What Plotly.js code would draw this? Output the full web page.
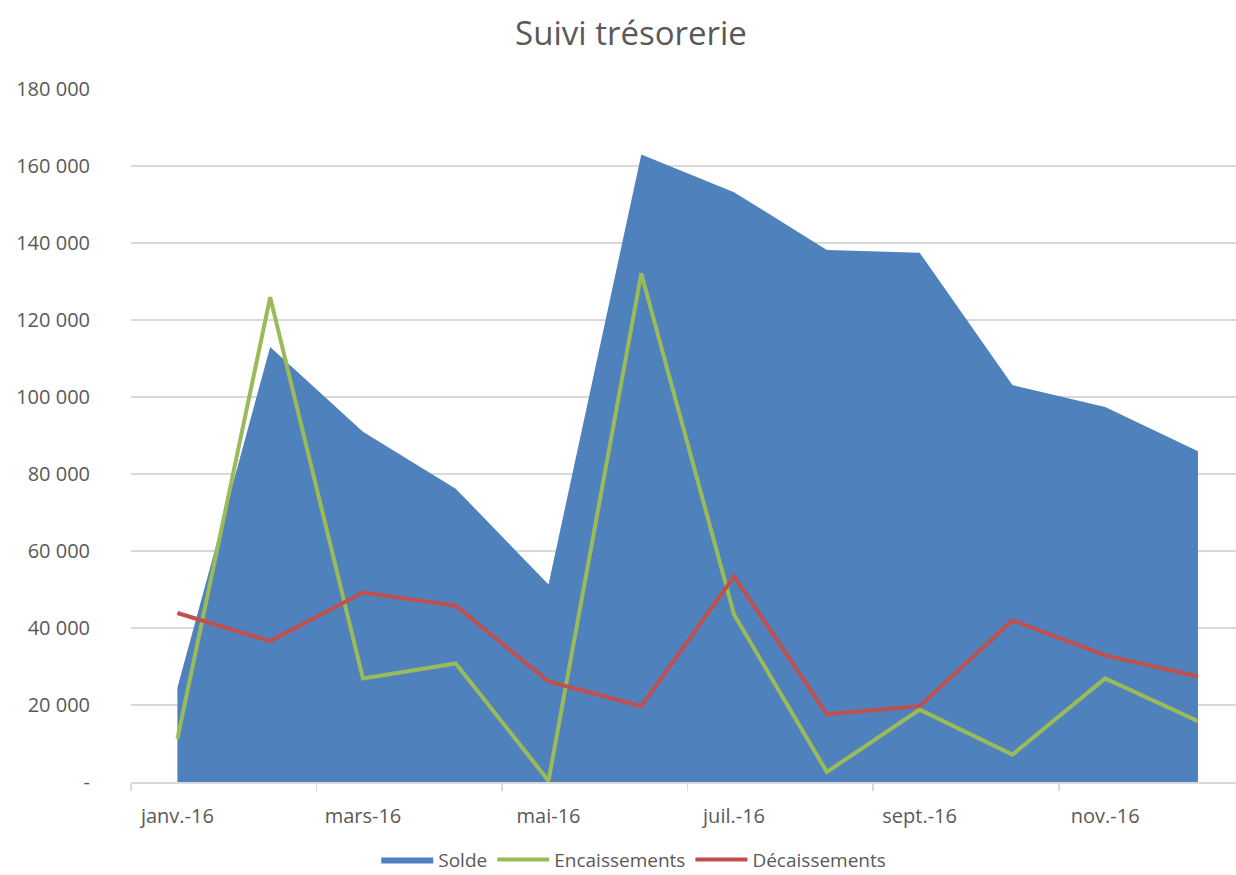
<!DOCTYPE html>
<html>
<head>
<meta charset="utf-8">
<script src="https://cdn.plot.ly/plotly-3.0.1.min.js"></script>
<style>
  html, body { margin: 0; padding: 0; background: #ffffff; }
  #chart { width: 1236px; height: 875px; }
</style>
</head>
<body>
<div id="chart"></div>
<script>
// Months (index positions) and labels
const months = ["janv.-16", "févr.-16", "mars-16", "avr.-16", "mai-16", "juin-16",
                "juil.-16", "août-16", "sept.-16", "oct.-16", "nov.-16", "déc.-16"];
const solde = [24500, 113000, 91000, 76200, 51300, 163000, 153200, 138200, 137500, 103100, 97400, 85900];
const encaissements = [11200, 125900, 26900, 30800, 300, 132100, 43500, 2600, 18800, 7100, 26900, 15800];
const decaissements = [43900, 36600, 49200, 45800, 26100, 19700, 53400, 17600, 19700, 42000, 32900, 27400];

const yTickVals = [0, 20000, 40000, 60000, 80000, 100000, 120000, 140000, 160000, 180000];
const yTickText = ["-", "20 000", "40 000", "60 000", "80 000", "100 000", "120 000", "140 000", "160 000", "180 000"];

const xIdx = months.map((m, i) => i);
const labelIdx = xIdx.filter(i => i % 2 === 0);
const labelText = labelIdx.map(i => months[i]);
const boundaryIdx = labelIdx.map(i => i - 0.5);

const textColor = "#595959";
const gridColor = "#d9d9d9";
const font = "Open Sans, Liberation Sans, sans-serif";

const traces = [
  {
    x: xIdx, y: solde, name: "Solde", type: "scatter", mode: "lines",
    fill: "tozeroy", fillcolor: "#4f81bd",
    line: { width: 0, color: "#4f81bd" }
  },
  {
    x: xIdx, y: encaissements, name: "Encaissements", type: "scatter", mode: "lines",
    line: { width: 4, color: "#9bbb59" }
  },
  {
    x: xIdx, y: decaissements, name: "Décaissements", type: "scatter", mode: "lines",
    line: { width: 4, color: "#c0504d" }
  },
  {
    // helper to draw boundary tick marks on the overlaid axis
    x: [0], y: [null], xaxis: "x2", showlegend: false, hoverinfo: "skip",
    type: "scatter", mode: "lines"
  }
];

const range = [-0.5, 11.41];

const layout = {
  width: 1236, height: 875,
  paper_bgcolor: "#ffffff", plot_bgcolor: "#ffffff",
  margin: { l: 131, r: 0, t: 89, b: 93, autoexpand: false },
  title: {
    text: "Suivi trésorerie",
    font: { family: font, size: 33, color: textColor },
    x: 0.5105, xanchor: "center", xref: "container",
    y: 0.962, yanchor: "middle", yref: "container"
  },
  xaxis: {
    range: range, tickvals: labelIdx, ticktext: labelText,
    showgrid: false, zeroline: false,
    showline: true, linecolor: gridColor, linewidth: 1.5,
    ticks: "", ticklabelstandoff: 15,
    tickfont: { family: font, size: 20, color: textColor }
  },
  xaxis2: {
    overlaying: "x", matches: "x", range: range, side: "bottom",
    tickvals: boundaryIdx, showticklabels: false,
    ticks: "outside", ticklen: 8, tickcolor: gridColor, tickwidth: 1.5,
    showgrid: false, zeroline: false, showline: false
  },
  yaxis: {
    range: [0, 180000], tickvals: yTickVals, ticktext: yTickText,
    showgrid: true, gridcolor: gridColor, gridwidth: 1.5,
    zeroline: false, showline: false, ticks: "",
    ticklabelstandoff: 40,
    tickfont: { family: font, size: 20, color: textColor }
  },
  legend: {
    orientation: "h", x: 0.455, xanchor: "center", y: -0.112, yanchor: "middle",
    font: { family: font, size: 19, color: textColor },
    itemwidth: 52, traceorder: "normal", bgcolor: "rgba(0,0,0,0)"
  },
  showlegend: true
};

Plotly.newPlot("chart", traces, layout, { displayModeBar: false, staticPlot: true });
</script>
</body>
</html>
